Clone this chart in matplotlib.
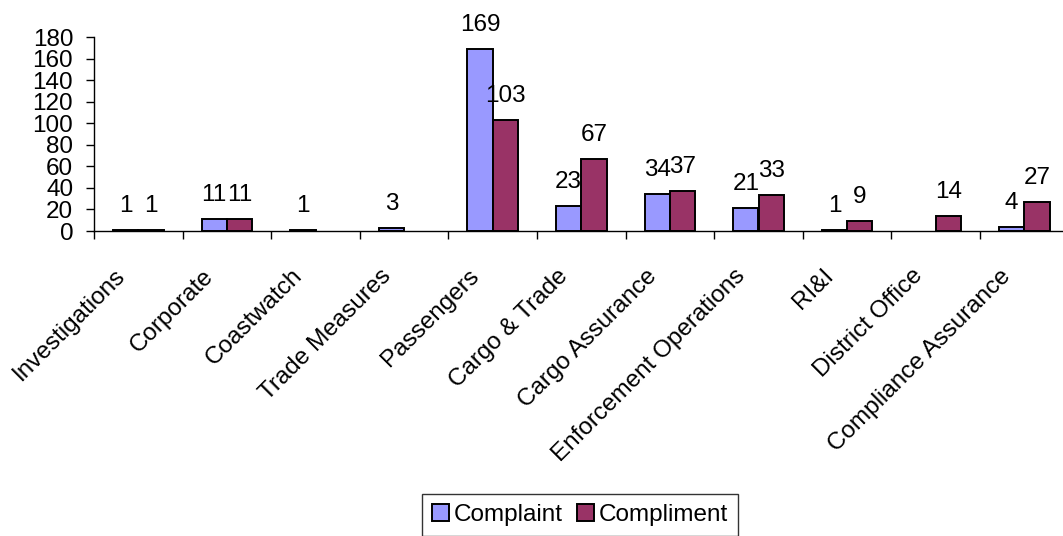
import matplotlib
matplotlib.use("Agg")
import matplotlib.pyplot as plt
import numpy as np
from matplotlib.ticker import FixedLocator, NullFormatter

categories = ["Investigations", "Corporate", "Coastwatch", "Trade Measures",
              "Passengers", "Cargo & Trade", "Cargo Assurance",
              "Enforcement Operations", "RI&I", "District Office",
              "Compliance Assurance"]
complaint = [1, 11, 1, 3, 169, 23, 34, 21, 1, 0, 4]
compliment = [1, 11, 0, 0, 103, 67, 37, 33, 9, 14, 27]
series_names = ["Complaint", "Compliment"]
y_ticks = [0, 20, 40, 60, 80, 100, 120, 140, 160, 180]

plt.rcParams["font.family"] = ["Liberation Sans", "DejaVu Sans"]
FS = 17.5

W, H = 1063, 536
fig = plt.figure(figsize=(W / 100, H / 100), dpi=100)
left, right = 94 / W, 1068.6 / W
bottom, top = 1 - 231 / H, 1 - 37 / H
ax = fig.add_axes([left, bottom, right - left, top - bottom])

x = np.arange(len(categories))
bw = 1 / 3.5  # gap width 150%
colors = ["#9999FF", "#993366"]
bars = []
for i, (vals, col, name) in enumerate(zip([complaint, compliment], colors, series_names)):
    vals = np.asarray(vals, dtype=float)
    heights = np.where(vals > 0, vals, np.nan)  # empty categories draw no bar
    pos = x + (i - 0.5) * bw
    b = ax.bar(pos, heights, width=bw, color=col, edgecolor="black",
               linewidth=1.4, label=name, zorder=2)
    bars.append(b)
    for xi, v in zip(pos, vals):
        if v > 0:
            ax.annotate(f"{v:g}", (xi, v), xytext=(0, 13),
                        textcoords="offset points", ha="center", va="baseline",
                        fontsize=FS)

ax.set_xlim(-0.5, len(categories) - 0.5)
ax.set_ylim(0, 180)
ax.set_yticks(y_ticks)
ax.tick_params(axis="y", labelsize=FS, length=6, width=1, direction="out", pad=9)
for s in ["top", "right"]:
    ax.spines[s].set_visible(False)
ax.spines["left"].set_linewidth(1)
ax.spines["bottom"].set_linewidth(1)

# category boundary ticks on the x axis, names drawn at 45 degrees
ax.xaxis.set_major_locator(FixedLocator(np.arange(len(categories) + 1) - 0.5))
ax.xaxis.set_major_formatter(NullFormatter())
ax.tick_params(axis="x", length=6, width=1, direction="out")
for xi, name in zip(x, categories):
    ax.annotate(name, (xi, 0), xytext=(-12, -30), textcoords="offset points",
                ha="right", va="center", rotation=45, rotation_mode="anchor",
                fontsize=FS, annotation_clip=False)

leg = fig.legend(handles=bars, labels=series_names, loc="center",
                 bbox_to_anchor=(580 / W, 1 - 515 / H), ncol=2, fontsize=FS,
                 frameon=True, fancybox=False, edgecolor="black",
                 handlelength=0.7, handleheight=0.7, handletextpad=0.2,
                 columnspacing=0.6, borderpad=0.4)
leg.get_frame().set_linewidth(1)

fig.savefig("out.png", dpi=100)
